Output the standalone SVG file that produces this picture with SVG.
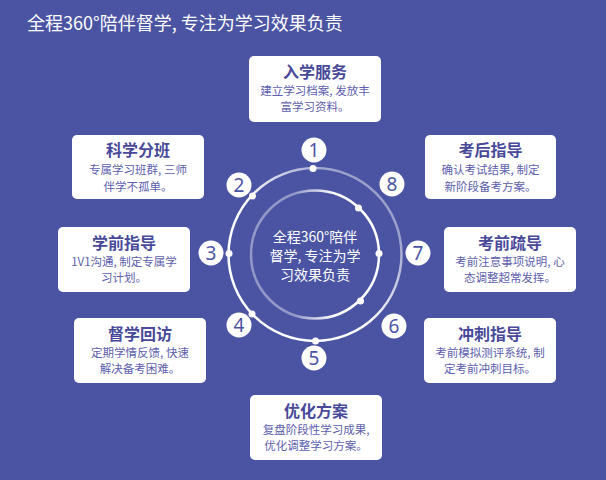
<svg xmlns="http://www.w3.org/2000/svg" width="606" height="480" viewBox="0 0 606 480">
<style>
.bg{fill:#4b54a3}
.card{fill:#ffffff}
.t{font-family:"Noto Sans CJK SC","Noto Sans",sans-serif;font-size:16px;font-weight:bold;fill:#484a99;text-anchor:middle}
.d{font-family:"Noto Sans CJK SC","Noto Sans",sans-serif;font-size:11.5px;fill:#5d60ad;text-anchor:middle}
.nc{fill:#ffffff}
.n{font-family:"Noto Sans","Noto Sans CJK SC",sans-serif;font-size:19px;fill:#4b54a3;text-anchor:middle}
.dot{fill:#ffffff}
.h{font-family:"Noto Sans CJK SC","Noto Sans",sans-serif;font-size:18px;fill:#ffffff}
.c{font-family:"Noto Sans CJK SC","Noto Sans",sans-serif;font-size:14px;fill:#ffffff;text-anchor:middle}
</style>
<defs>
<linearGradient id="go" x1="0" y1="1" x2="1" y2="0">
<stop offset="0.45" stop-color="#ffffff" stop-opacity="1"/>
<stop offset="0.8" stop-color="#ffffff" stop-opacity="0.45"/>
</linearGradient>
<linearGradient id="gi" x1="0" y1="0" x2="1" y2="0">
<stop offset="0.35" stop-color="#ffffff" stop-opacity="0.4"/>
<stop offset="0.65" stop-color="#ffffff" stop-opacity="1"/>
</linearGradient>
</defs>
<rect class="bg" x="0" y="0" width="606" height="480"/>
<text class="h" x="27" y="30">全程360°陪伴督学, 专注为学习效果负责</text>

<g id="rings">
<circle cx="315" cy="254.5" r="86.5" fill="none" stroke="url(#go)" stroke-width="2.5"/>
<circle cx="315" cy="254.5" r="64" fill="none" stroke="url(#gi)" stroke-width="2.5"/>
<circle class="dot" cx="313" cy="168.5" r="3.5"/>
<circle class="dot" cx="252.5" cy="196" r="3.5"/>
<circle class="dot" cx="229" cy="253.5" r="3.5"/>
<circle class="dot" cx="252" cy="314" r="3.5"/>
<circle class="dot" cx="315.5" cy="341" r="3.5"/>
<circle class="dot" cx="358.5" cy="208" r="3.5"/>
<circle class="dot" cx="379" cy="253.5" r="3.5"/>
<circle class="dot" cx="360.5" cy="301" r="3.5"/>
</g>

<g id="center">
<text class="c" x="315" y="242">全程360°陪伴</text>
<text class="c" x="315" y="261">督学, 专注为学</text>
<text class="c" x="315" y="280">习效果负责</text>
</g>

<g id="n1"><circle class="nc" cx="314" cy="150" r="12.5"/><text class="n" x="314" y="157">1</text></g>
<g id="n2"><circle class="nc" cx="239" cy="185" r="12.5"/><text class="n" x="239" y="192">2</text></g>
<g id="n3"><circle class="nc" cx="211" cy="253" r="12.5"/><text class="n" x="211" y="260">3</text></g>
<g id="n4"><circle class="nc" cx="239" cy="325" r="12.5"/><text class="n" x="239" y="332">4</text></g>
<g id="n5"><circle class="nc" cx="314" cy="358" r="12.5"/><text class="n" x="314" y="365">5</text></g>
<g id="n6"><circle class="nc" cx="394" cy="326" r="12.5"/><text class="n" x="394" y="333">6</text></g>
<g id="n7"><circle class="nc" cx="418" cy="253" r="12.5"/><text class="n" x="418" y="260">7</text></g>
<g id="n8"><circle class="nc" cx="392" cy="184" r="12.5"/><text class="n" x="392" y="191">8</text></g>

<g id="card1"><rect class="card" x="249" y="56" width="132" height="66" rx="5"/>
<text class="t" x="315" y="78">入学服务</text>
<text class="d" x="315" y="95">建立学习档案, 发放丰</text>
<text class="d" x="315" y="111">富学习资料。</text></g>

<g id="card2"><rect class="card" x="72" y="135" width="132" height="64" rx="5"/>
<text class="t" x="138" y="156">科学分班</text>
<text class="d" x="138" y="174">专属学习班群, 三师</text>
<text class="d" x="138" y="191">伴学不孤单。</text></g>

<g id="card8"><rect class="card" x="425" y="135" width="131" height="64" rx="5"/>
<text class="t" x="490.5" y="156">考后指导</text>
<text class="d" x="490.5" y="174">确认考试结果, 制定</text>
<text class="d" x="490.5" y="191">新阶段备考方案。</text></g>

<g id="card3"><rect class="card" x="58" y="227" width="132" height="65" rx="5"/>
<text class="t" x="124" y="249">学前指导</text>
<text class="d" x="124" y="266">1V1沟通, 制定专属学</text>
<text class="d" x="124" y="282">习计划。</text></g>

<g id="card7"><rect class="card" x="444" y="227" width="132" height="65" rx="5"/>
<text class="t" x="510" y="249">考前疏导</text>
<text class="d" x="510" y="266">考前注意事项说明, 心</text>
<text class="d" x="510" y="282">态调整超常发挥。</text></g>

<g id="card4"><rect class="card" x="74" y="318" width="132" height="65" rx="5"/>
<text class="t" x="140" y="340">督学回访</text>
<text class="d" x="140" y="357">定期学情反馈, 快速</text>
<text class="d" x="140" y="373">解决备考困难。</text></g>

<g id="card6"><rect class="card" x="424" y="318" width="132" height="65" rx="5"/>
<text class="t" x="490" y="340">冲刺指导</text>
<text class="d" x="490" y="357">考前模拟测评系统, 制</text>
<text class="d" x="490" y="373">定考前冲刺目标。</text></g>

<g id="card5"><rect class="card" x="250" y="395" width="132" height="65" rx="5"/>
<text class="t" x="316" y="417">优化方案</text>
<text class="d" x="316" y="434">复盘阶段性学习成果,</text>
<text class="d" x="316" y="450">优化调整学习方案。</text></g>
</svg>
